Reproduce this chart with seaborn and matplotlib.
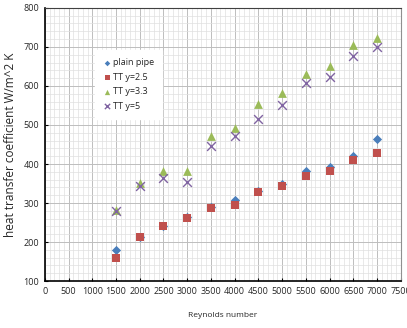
import pandas as pd
import matplotlib
matplotlib.use("Agg")
import matplotlib.pyplot as plt
import seaborn as sns
from matplotlib.ticker import MultipleLocator

reynolds = [1500, 2000, 2500, 3000, 3500, 4000, 4500, 5000, 5500, 6000, 6500, 7000]
plain_pipe = [180, 212, 241, 265, 291, 307, 332, 350, 381, 393, 421, 463]
tt_25 = [160, 212, 240, 262, 286, 296, 327, 344, 368, 381, 410, 427]
tt_33 = [282, 352, 382, 383, 471, 493, 553, 582, 630, 651, 706, 722]
tt_5 = [280, 344, 365, 355, 445, 472, 516, 550, 607, 624, 677, 700]

series_names = ["plain pipe", "TT y=2.5", "TT y=3.3", "TT y=5"]


def main():
    rows = []
    for name, vals in zip(series_names, [plain_pipe, tt_25, tt_33, tt_5]):
        for re_, h in zip(reynolds, vals):
            rows.append({"Re": re_, "h": h, "series": name})
    df = pd.DataFrame(rows)

    sns.set_style("white")
    plt.rcParams["font.family"] = ["Open Sans", "DejaVu Sans"]

    fig = plt.figure(figsize=(4.07, 3.28), dpi=100)
    ax = fig.add_axes([0.11, 0.143, 0.875, 0.833])

    palette = {"plain pipe": "#4a7ebb", "TT y=2.5": "#c0504d",
               "TT y=3.3": "#9bbb59", "TT y=5": "#8064a2"}
    markers = {"plain pipe": "D", "TT y=2.5": "s", "TT y=3.3": "^", "TT y=5": "x"}
    sizes = {"plain pipe": 22, "TT y=2.5": 36, "TT y=3.3": 40, "TT y=5": 40}

    for name in series_names:
        sub = df[df["series"] == name]
        kw = dict(linewidth=0) if markers[name] != "x" else dict(linewidth=1.0)
        sns.scatterplot(data=sub, x="Re", y="h", marker=markers[name],
                        color=palette[name], s=sizes[name], ax=ax, label=name,
                        zorder=3, **kw)

    ax.set_xlim(0, 7500)
    ax.set_ylim(100, 800)
    ax.xaxis.set_major_locator(MultipleLocator(500))
    ax.xaxis.set_minor_locator(MultipleLocator(100))
    ax.yaxis.set_major_locator(MultipleLocator(100))
    ax.yaxis.set_minor_locator(MultipleLocator(20))
    ax.grid(True, which="major", color="#bdbdbd", linewidth=0.7)
    ax.grid(True, which="minor", color="#e0e0e0", linewidth=0.5)
    ax.set_axisbelow(True)

    ax.tick_params(axis="both", which="major", labelsize=6.5, length=2,
                   direction="in", color="black", pad=4)
    ax.tick_params(axis="both", which="minor", length=1.5, direction="in", color="black")
    ax.tick_params(bottom=True, left=True)

    for side in ["left", "bottom"]:
        ax.spines[side].set_color("black")
        ax.spines[side].set_linewidth(1.2)
    ax.spines["top"].set_color("#404040")
    ax.spines["top"].set_linewidth(0.8)
    ax.spines["right"].set_color("#909090")
    ax.spines["right"].set_linewidth(0.8)

    ax.set_xlabel("Reynolds number", fontsize=6, labelpad=12)
    ax.set_ylabel("heat transfer coefficient W/m^2 K", fontsize=8.5, labelpad=5)

    leg = ax.legend(loc="upper left", bbox_to_anchor=(0.14, 0.845), frameon=True,
                    fontsize=6.5, handletextpad=0.1, labelspacing=0.6,
                    borderpad=0.9, handlelength=1.0, markerscale=0.6,
                    fancybox=False, borderaxespad=0)
    leg.get_frame().set_edgecolor("white")
    leg.get_frame().set_facecolor("white")
    leg.get_frame().set_alpha(1)

    fig.savefig("out.png", dpi=100)


if __name__ == "__main__":
    main()
